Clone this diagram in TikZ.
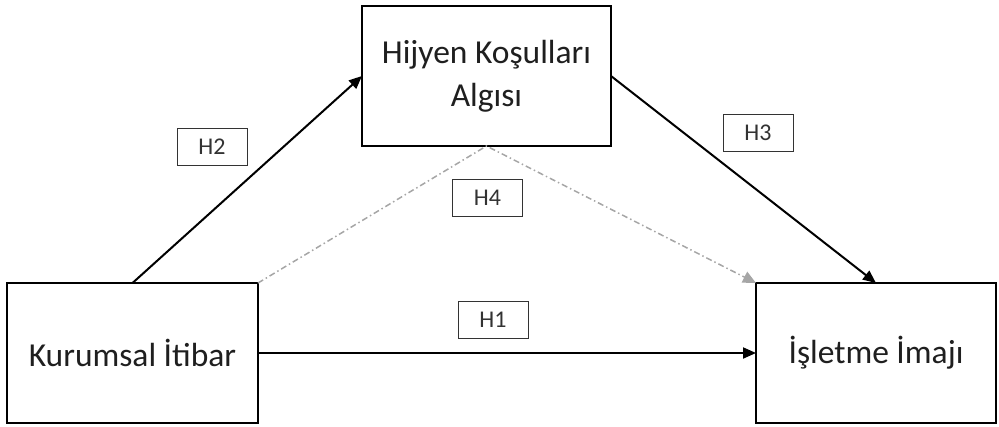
\documentclass[tikz,border=0pt]{standalone}
\usepackage{fontspec}
\setmainfont{Carlito}
\usetikzlibrary{arrows.meta}
\begin{document}
\begin{tikzpicture}[x=1pt,y=-1pt,
  mainbox/.style={draw=black,line width=2pt,fill=white,inner sep=0pt,outer sep=0pt,align=center,font=\fontsize{33.5}{43}\selectfont,text=black!88},
  hbox/.style={draw=black!80,line width=1pt,fill=white,inner sep=0pt,outer sep=0pt,minimum width=70pt,minimum height=37pt,font=\fontsize{24}{26}\selectfont,text=black!80},
  arr/.style={line width=2pt,-{Triangle[length=13pt,width=11pt]}},
  grayarr/.style={draw=black!35,line width=1.5pt,dash pattern=on 6pt off 3pt on 1.5pt off 3pt,-{Triangle[length=13pt,width=12pt,fill=black!35]}}]
\useasboundingbox (0,0) rectangle (999,426);
\node[mainbox,minimum width=251pt,minimum height=140pt] (K) at (132.5,353) {Kurumsal İtibar};
\node[mainbox,minimum width=249pt,minimum height=140pt] (H) at (486.5,76) {Hijyen Koşulları\\Algısı};
\node[mainbox,minimum width=240pt,minimum height=140pt] (I) at (876,353) {İşletme İmajı};
\node[hbox] (h2) at (212,146.5) {H2};
\node[hbox] (h4) at (487.5,197.5) {H4};
\node[hbox] (h1) at (493,319.5) {H1};
\node[hbox] (h3) at (758,132.5) {H3};
\draw[grayarr] (K.north east) -- (H.south) -- (I.north west);
\draw[arr] (K.north) -- (H.west);
\draw[arr] (H.east) -- (I.north);
\draw[arr] (K.east) -- (I.west);
\end{tikzpicture}
\end{document}
